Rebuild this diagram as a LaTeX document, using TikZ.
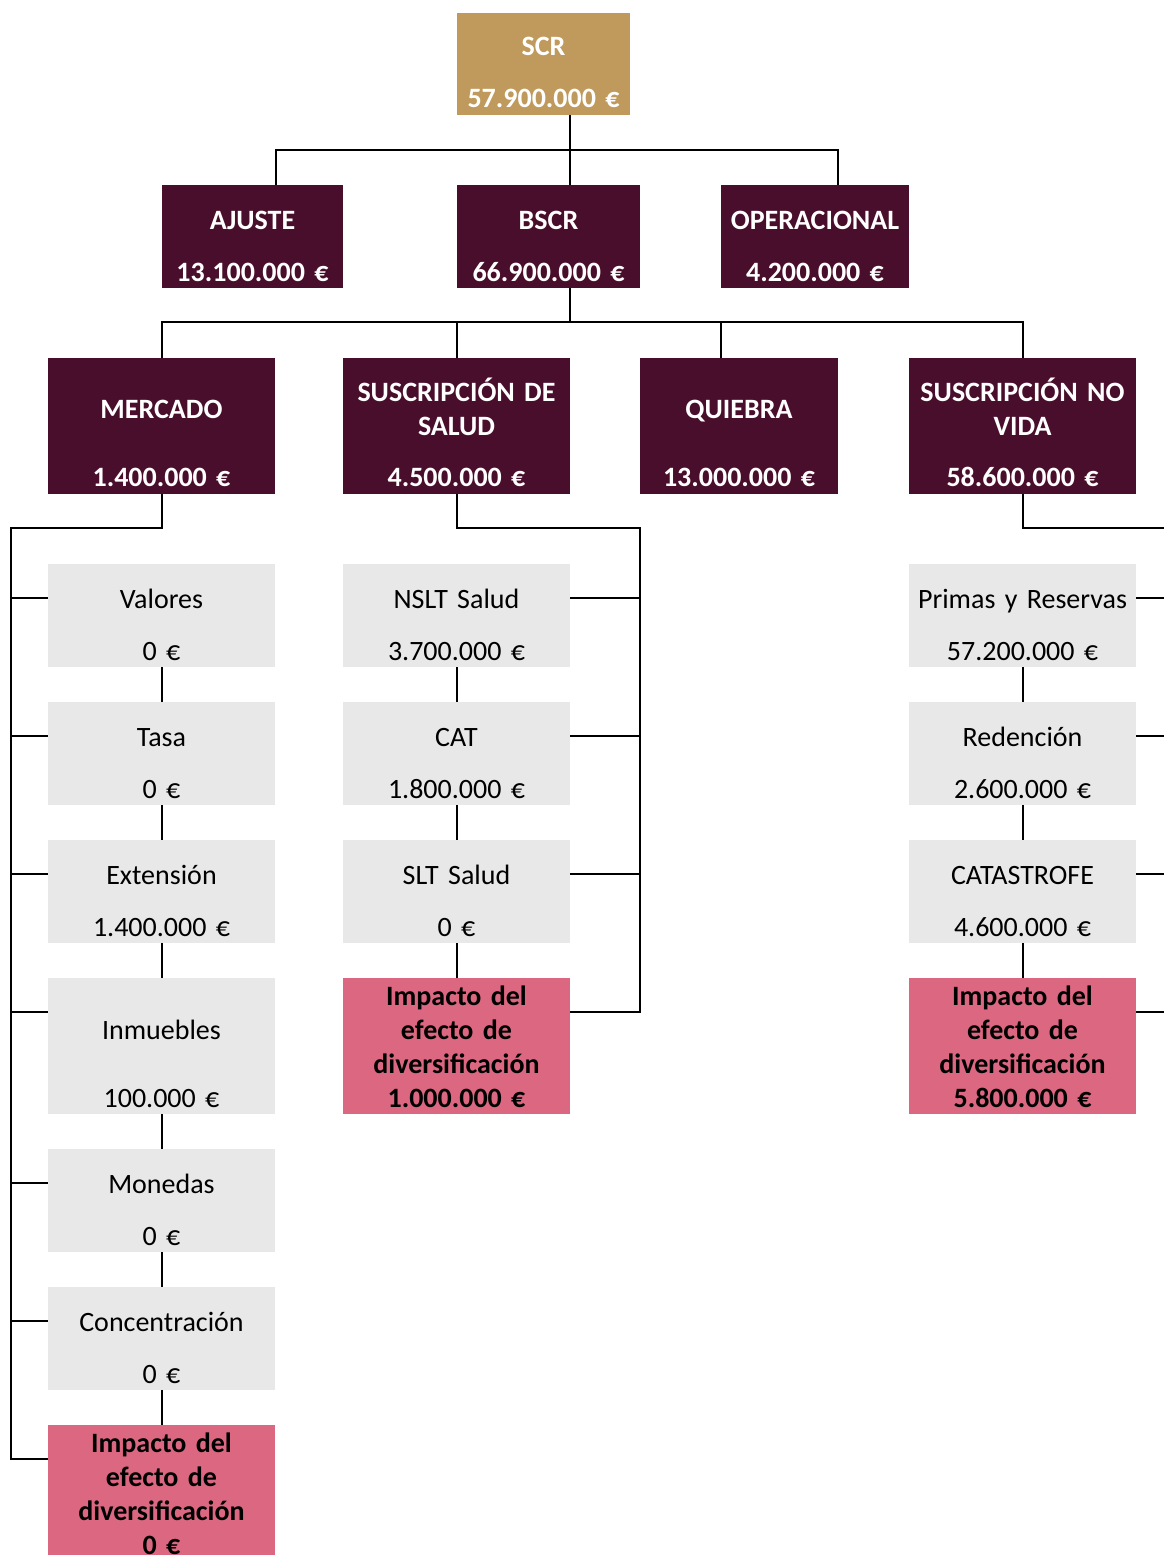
\documentclass[tikz,border=0pt]{standalone}
\usepackage{fontspec}
\setmainfont{Carlito}
\definecolor{oro}{RGB}{191,154,92}
\definecolor{granate}{RGB}{73,14,43}
\definecolor{rosa}{RGB}{220,103,128}
\definecolor{gris}{RGB}{232,232,232}
\newcommand{\celda}[4]{\rule{0pt}{#1}#2\\[#3]#4\rule[-7pt]{0pt}{7pt}}
\tikzset{caja/.style = {rectangle, inner sep = 0, outer sep = 0, align = center,
                        text width = #1, font = \fontsize{28pt}{34pt}\selectfont}}
\tikzset{scrbox/.style = {caja = #1, fill = oro, text = white,
                          font = \fontsize{28pt}{34pt}\selectfont\bfseries}}
\tikzset{riesgo/.style = {caja = #1, fill = granate, text = white,
                          font = \fontsize{28pt}{34pt}\selectfont\bfseries}}
\tikzset{sub/.style = {caja = 227pt, fill = gris}}
\tikzset{impacto/.style = {caja = 227pt, fill = rosa,
                           font = \fontsize{28pt}{34pt}\selectfont\bfseries}}
\tikzset{linea/.style = {line width = 2pt}}

\begin{document}
\begin{tikzpicture}[x=1pt, y=-1pt]
      \useasboundingbox (0, 0) rectangle (1164, 1555);

      \node [scrbox=173pt] (scr) at (543.5, 64) {\celda{43pt}{SCR}{18pt}{57.900.000 €}};

      \node [riesgo=181pt] (ajuste) at (252.5, 236.5) {\celda{44pt}{AJUSTE}{18pt}{13.100.000 €}};
      \node [riesgo=183pt] (bscr) at (548.5, 236.5) {\celda{44pt}{BSCR}{18pt}{66.900.000 €}};
      \node [riesgo=188pt] (oper) at (815, 236.5) {\celda{44pt}{OPERACIONAL}{18pt}{4.200.000 €}};

      \node [riesgo=227pt] (mercado) at (161.5, 425.5) {\celda{61pt}{MERCADO}{34pt}{1.400.000 €}};
      \node [riesgo=227pt] (salud) at (456.5, 425.5) {\celda{44pt}{SUSCRIPCIÓN DE\\SALUD}{17pt}{4.500.000 €}};
      \node [riesgo=198pt] (quiebra) at (739, 425.5) {\celda{61pt}{QUIEBRA}{34pt}{13.000.000 €}};
      \node [riesgo=227pt] (novida) at (1022.5, 425.5) {\celda{44pt}{SUSCRIPCIÓN NO\\VIDA}{17pt}{58.600.000 €}};

      \node [sub] (valores) at (161.5, 615.5) {\celda{44pt}{Valores}{18pt}{0 €}};
      \node [sub] (tasa) at (161.5, 753.5) {\celda{44pt}{Tasa}{18pt}{0 €}};
      \node [sub] (extension) at (161.5, 891.5) {\celda{44pt}{Extensión}{18pt}{1.400.000 €}};
      \node [sub] (inmuebles) at (161.5, 1046) {\celda{61pt}{Inmuebles}{34pt}{100.000 €}};
      \node [sub] (monedas) at (161.5, 1200.5) {\celda{44pt}{Monedas}{18pt}{0 €}};
      \node [sub] (concentracion) at (161.5, 1338.5) {\celda{44pt}{Concentración}{18pt}{0 €}};
      \node [impacto] (mimpacto) at (161.5, 1493) {\celda{27pt}{Impacto del\\efecto de\\diversificación}{0pt}{0 €}};

      \node [sub] (nslt) at (456.5, 615.5) {\celda{44pt}{NSLT Salud}{18pt}{3.700.000 €}};
      \node [sub] (cat) at (456.5, 753.5) {\celda{44pt}{CAT}{18pt}{1.800.000 €}};
      \node [sub] (slt) at (456.5, 891.5) {\celda{44pt}{SLT Salud}{18pt}{0 €}};
      \node [impacto] (simpacto) at (456.5, 1046) {\celda{27pt}{Impacto del\\efecto de\\diversificación}{0pt}{1.000.000 €}};

      \node [sub] (primas) at (1022.5, 615.5) {\celda{44pt}{Primas y Reservas}{18pt}{57.200.000 €}};
      \node [sub] (redencion) at (1022.5, 753.5) {\celda{44pt}{Redención}{18pt}{2.600.000 €}};
      \node [sub] (catastrofe) at (1022.5, 891.5) {\celda{44pt}{CATASTROFE}{18pt}{4.600.000 €}};
      \node [impacto] (vimpacto) at (1022.5, 1046) {\celda{27pt}{Impacto del\\efecto de\\diversificación}{0pt}{5.800.000 €}};

      \draw [linea] ([xshift=26pt]scr.south) -- ++(0, 35) coordinate (bus1);
      \draw [linea] ([xshift=23pt]ajuste.north) |- (bus1);
      \draw [linea] (bus1) -- (bus1 |- bscr.north);
      \draw [linea] ([xshift=23pt]oper.north) |- (bus1);

      \draw [linea] (bus1 |- bscr.south) -- ++(0, 34) coordinate (bus2);
      \draw [linea] (mercado.north) |- (bus2);
      \draw [linea] (salud.north) |- (bus2);
      \draw [linea] ([xshift=-18pt]quiebra.north) |- (bus2);
      \draw [linea] (novida.north) |- (bus2);

      \coordinate (mbus) at (11, 0);
      \coordinate (sbus) at (640, 0);
      \coordinate (vbus) at (1172, 0);

      \foreach \n in {valores, tasa, extension, inmuebles, monedas, concentracion, mimpacto}
        \coordinate (\n-in) at ([yshift=-34pt]\n.north west);
      \foreach \n in {nslt, cat, slt, simpacto, primas, redencion, catastrofe, vimpacto}
        \coordinate (\n-in) at ([yshift=-34pt]\n.north east);

      \draw [linea] (mercado.south) -- ++(0, 34) -| (mbus |- mimpacto-in) -- (mimpacto-in);
      \foreach \n in {valores, tasa, extension, inmuebles, monedas, concentracion}
        \draw [linea] (mbus |- \n-in) -- (\n-in);

      \draw [linea] (salud.south) -- ++(0, 34) -| (sbus |- simpacto-in) -- (simpacto-in);
      \foreach \n in {nslt, cat, slt}
        \draw [linea] (sbus |- \n-in) -- (\n-in);

      \draw [linea] (novida.south) -- ++(0, 34) -| (vbus |- vimpacto-in) -- (vimpacto-in);
      \foreach \n in {primas, redencion, catastrofe}
        \draw [linea] (vbus |- \n-in) -- (\n-in);

      \foreach \a/\b in {valores/tasa, tasa/extension, extension/inmuebles, inmuebles/monedas,
                         monedas/concentracion, concentracion/mimpacto, nslt/cat, cat/slt,
                         slt/simpacto, primas/redencion, redencion/catastrofe, catastrofe/vimpacto}
        \draw [linea] (\a.south) -- (\b.north);
    \end{tikzpicture}
\end{document}
